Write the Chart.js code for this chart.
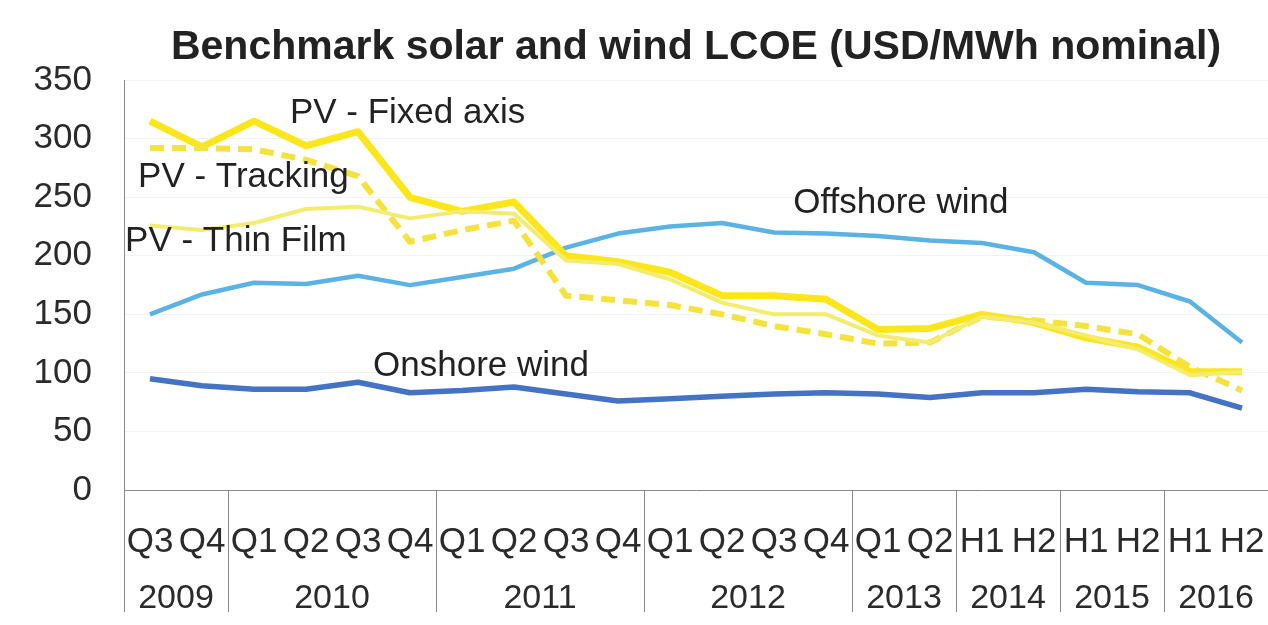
<!DOCTYPE html>
<html>
<head>
<meta charset="utf-8">
<script src="https://cdn.jsdelivr.net/npm/chart.js@4"></script>
<style>
  html, body { margin: 0; padding: 0; background: #fff; }
  #wrap { width: 1268px; height: 625px; }
</style>
</head>
<body>
<div id="wrap"><canvas id="lcoeChart" width="1268" height="625"></canvas></div>
<script>
// periods on the x axis
const periods = ['Q3','Q4','Q1','Q2','Q3','Q4','Q1','Q2','Q3','Q4','Q1','Q2','Q3','Q4','Q1','Q2','H1','H2','H1','H2','H1','H2'];
const years = ['2009','2010','2011','2012','2013','2014','2015','2016'];
const yearSpans = [2, 4, 4, 4, 2, 2, 2, 2];

// USD/MWh
const pvFixed    = [315, 293, 315, 294, 306, 250, 238, 246, 200, 195, 186, 166, 166, 163, 137, 138, 150, 143, 130, 122, 101, 101];
const pvTracking = [292, 292, 291, 282, 268, 212, 222, 230, 166, 162, 158, 150, 140, 133, 125, 126, 148, 145, 140, 133, 105, 85];
const pvThinFilm = [226, 222, 228, 240, 242, 232, 238, 236, 196, 193, 180, 160, 150, 150, 132, 126, 148, 143, 132, 120, 98, 101];
const offshore   = [150, 167, 177, 176, 183, 175, 182, 189, 207, 219, 225, 228, 220, 219, 217, 213, 211, 203, 177, 175, 161, 126];
const onshore    = [95, 89, 86, 86, 92, 83, 85, 88, 82, 76, 78, 80, 82, 83, 82, 79, 83, 83, 86, 84, 83, 70];

const yTicks = [0, 50, 100, 150, 200, 250, 300, 350];

// series names written inside the plot: [text, category position, value]
const seriesLabels = [
    ['PV - Fixed axis', 2.69, 322],
    ['PV - Tracking', -0.23, 267],
    ['PV - Thin Film', -0.48, 212],
    ['Offshore wind', 12.37, 245],
    ['Onshore wind', 4.29, 106]
];

const FONT = '"Liberation Sans", Arial, sans-serif';

const extrasPlugin = {
    id: 'extras',
    afterDraw(chart) {
        const ctx = chart.ctx;
        const x = chart.scales.x;
        const y = chart.scales.y;
        const area = chart.chartArea;
        ctx.save();

        // group dividers under the axis
        ctx.strokeStyle = '#8a8a8a';
        ctx.lineWidth = 1;
        let start = 0;
        const bottom = area.bottom + 122;
        ctx.beginPath();
        ctx.moveTo(area.left + 0.5, area.bottom);
        ctx.lineTo(area.left + 0.5, bottom);
        ctx.fillStyle = '#2b2b2b';
        ctx.font = '34px ' + FONT;
        ctx.textAlign = 'center';
        ctx.textBaseline = 'middle';
        yearSpans.forEach((n, i) => {
            const end = start + n;
            const px = Math.round(x.getPixelForValue(end - 0.5)) + 0.5;
            ctx.moveTo(px, area.bottom);
            ctx.lineTo(px, bottom);
            // year label centred under its group
            const cx = x.getPixelForValue(start + (n - 1) / 2);
            ctx.fillText(years[i], cx, area.bottom + 109);
            start = end;
        });
        ctx.stroke();

        // series names
        ctx.fillStyle = '#222';
        ctx.font = '35px ' + FONT;
        ctx.textAlign = 'left';
        ctx.textBaseline = 'middle';
        seriesLabels.forEach(([t, cx, v]) => {
            ctx.fillText(t, x.getPixelForValue(cx), y.getPixelForValue(v));
        });
        ctx.restore();
    }
};

function lineSet(label, data, color, width, dash) {
    return {
        label: label,
        data: data,
        borderColor: color,
        backgroundColor: color,
        borderWidth: width,
        borderDash: dash || [],
        pointRadius: 0,
        tension: 0,
        fill: false,
        borderCapStyle: 'butt',
        borderJoinStyle: 'round'
    };
}

const ctx = document.getElementById('lcoeChart').getContext('2d');
const chart = new Chart(ctx, {
    type: 'line',
    data: {
        labels: periods,
        datasets: [
            lineSet('Onshore wind', onshore, '#4473c5', 5.5),
            lineSet('PV - Thin Film', pvThinFilm, '#f4ec6e', 4),
            lineSet('PV - Tracking', pvTracking, '#f5e23c', 6, [14, 8]),
            lineSet('PV - Fixed axis', pvFixed, '#fbe61c', 7),
            lineSet('Offshore wind', offshore, '#5ab3e4', 4.5)
        ]
    },
    options: {
        responsive: false,
        animation: false,
        layout: { padding: 0 },
        plugins: {
            legend: { display: false },
            tooltip: { enabled: false },
            title: {
                display: true,
                fullSize: false,
                text: 'Benchmark solar and wind LCOE (USD/MWh nominal)',
                color: '#222',
                font: { family: FONT, size: 41, weight: 'bold' },
                padding: { top: 23, bottom: 8 }
            }
        },
        scales: {
            x: {
                type: 'category',
                offset: true,
                grid: { display: false, drawTicks: false },
                border: { display: true, color: '#8a8a8a', width: 1 },
                ticks: {
                    color: '#2b2b2b',
                    font: { family: FONT, size: 35 },
                    padding: 31,
                    maxRotation: 0,
                    autoSkip: false
                },
                afterFit(scale) {
                    scale.height = 135;
                    scale.paddingLeft = 0;
                    scale.paddingRight = 0;
                }
            },
            y: {
                min: 0,
                max: 350,
                afterBuildTicks(scale) { scale.ticks = yTicks.map(v => ({ value: v })); },
                grid: { color: 'rgba(0,0,0,0.05)', drawTicks: false },
                border: { display: true, color: '#8a8a8a', width: 1 },
                ticks: {
                    color: '#2b2b2b',
                    font: { family: FONT, size: 35 },
                    padding: 32
                },
                afterFit(scale) {
                    scale.width = 124;
                    scale.paddingTop = 0;
                    scale.paddingBottom = 0;
                }
            }
        }
    },
    plugins: [extrasPlugin]
});
</script>
</body>
</html>
